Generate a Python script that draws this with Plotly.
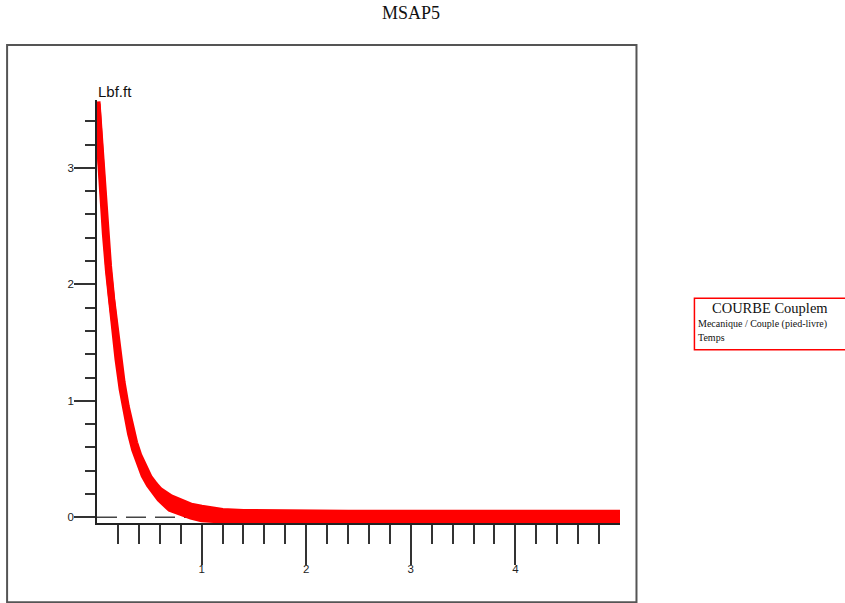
import plotly.graph_objects as go

# Motor torque transient (MSAP5): upper / lower ripple envelope of the measured torque
time_s = [0.00, 0.02, 0.05, 0.08, 0.11, 0.14, 0.17, 0.20, 0.24, 0.28, 0.32, 0.36,
          0.40, 0.45, 0.50, 0.55, 0.60, 0.70, 0.80, 0.90, 1.00, 1.10, 1.20, 1.40,
          1.60, 1.80, 2.00, 2.40, 2.80, 3.20, 3.60, 4.00, 4.40, 4.80, 5.00]
torque_hi = [3.57, 3.28, 2.85, 2.48, 2.16, 1.88, 1.63, 1.41, 1.16, 0.95, 0.78, 0.64,
             0.53, 0.42, 0.34, 0.28, 0.23, 0.17, 0.125, 0.095, 0.078, 0.062, 0.05, 0.042,
             0.038, 0.036, 0.035, 0.035, 0.034, 0.035, 0.034, 0.035, 0.034, 0.035, 0.035]
torque_lo = [3.55, 3.24, 2.80, 2.43, 2.11, 1.83, 1.58, 1.36, 1.10, 0.89, 0.72, 0.58,
             0.47, 0.36, 0.28, 0.21, 0.16, 0.075, 0.035, 0.01, -0.012, -0.02, -0.024, -0.026,
             -0.027, -0.028, -0.028, -0.028, -0.028, -0.028, -0.028, -0.028, -0.028, -0.028, -0.028]

x_major = [1, 2, 3, 4]
y_major = [0, 1, 2, 3]
x_minor = [round(i * 0.2, 1) for i in range(1, 25) if i % 5]
y_minor = [round(i * 0.2, 1) for i in range(1, 18) if i % 5]

W, H = 845, 603
L, R, T, B = 97, 620.5, 100, 522.7   # plot area in pixels


def px(x):
    return (x - L) / (R - L)


def py(y):
    return (B - y) / (B - T)


RED = "#ff0000"
SANS = "Liberation Sans, Arial, sans-serif"
SERIF = "Liberation Serif, Times New Roman, serif"

fig = go.Figure()
fig.add_trace(go.Scatter(x=time_s, y=torque_lo, mode="lines",
                         line=dict(color=RED, width=7), hoverinfo="skip", showlegend=False))
fig.add_trace(go.Scatter(x=time_s, y=torque_hi, mode="lines",
                         line=dict(color=RED, width=7), fill="tonexty", fillcolor=RED,
                         name="COURBE Couplem", showlegend=False))

shapes = [
    # zero reference line
    dict(type="line", xref="x", yref="y", x0=0, x1=5, y0=0, y1=0, layer="below",
         line=dict(color="#444444", width=1.5, dash="20px,9px")),
    # outer frame
    dict(type="rect", xref="paper", yref="paper", x0=px(7), x1=px(637), y0=py(602), y1=py(45),
         line=dict(color="#555555", width=2), layer="below"),
    # legend box
    dict(type="rect", xref="paper", yref="paper", x0=px(695), x1=px(848), y0=py(349.5), y1=py(298),
         line=dict(color=RED, width=1.5), layer="below"),
]

annotations = [
    dict(text="MSAP5", xref="paper", yref="paper", x=px(411), y=py(13), showarrow=False,
         xanchor="center", yanchor="middle", font=dict(family=SERIF, size=18, color="#111111")),
    dict(text="Lbf.ft", xref="paper", yref="paper", x=px(96), y=py(92), showarrow=False,
         xanchor="left", yanchor="middle", font=dict(family=SANS, size=15, color="#111111")),
    dict(text="COURBE Couplem", xref="paper", yref="paper", x=px(770.5), y=py(307.5), showarrow=False,
         xanchor="center", yanchor="middle", font=dict(family=SERIF, size=14.5, color="#111111")),
    dict(text="Mecanique / Couple (pied-livre)", xref="paper", yref="paper", x=px(696.5), y=py(324),
         showarrow=False, xanchor="left", yanchor="middle",
         font=dict(family=SERIF, size=10, color="#111111")),
    dict(text="Temps", xref="paper", yref="paper", x=px(696.5), y=py(337), showarrow=False,
         xanchor="left", yanchor="middle", font=dict(family=SERIF, size=10, color="#111111")),
]

fig.update_layout(
    width=W, height=H,
    margin=dict(l=L, r=W - R, t=T, b=H - B, pad=0),
    paper_bgcolor="white", plot_bgcolor="white",
    shapes=shapes, annotations=annotations,
    xaxis=dict(range=[0, 5.0], showgrid=False, zeroline=False,
               showline=True, linecolor="#222222", linewidth=1.5,
               tickmode="array", tickvals=x_major, ticktext=[str(v) for v in x_major],
               ticks="outside", ticklen=40, tickwidth=1.5, tickcolor="#333333",
               ticklabelstandoff=-6,
               tickfont=dict(family=SANS, size=11.5, color="#222222"),
               minor=dict(tickmode="array", tickvals=x_minor, ticks="outside",
                          ticklen=19, tickwidth=1.5, tickcolor="#333333", showgrid=False)),
    yaxis=dict(range=[-0.049, 3.583], showgrid=False, zeroline=False,
               showline=True, linecolor="#222222", linewidth=1.5,
               tickmode="array", tickvals=y_major, ticktext=[str(v) for v in y_major],
               ticks="outside", ticklen=21, tickwidth=1.5, tickcolor="#333333",
               ticklabelstandoff=-2,
               tickfont=dict(family=SANS, size=11.5, color="#222222"),
               minor=dict(tickmode="array", tickvals=y_minor, ticks="outside",
                          ticklen=10, tickwidth=1.5, tickcolor="#333333", showgrid=False)),
    showlegend=False,
)

fig.write_html("out.html")
